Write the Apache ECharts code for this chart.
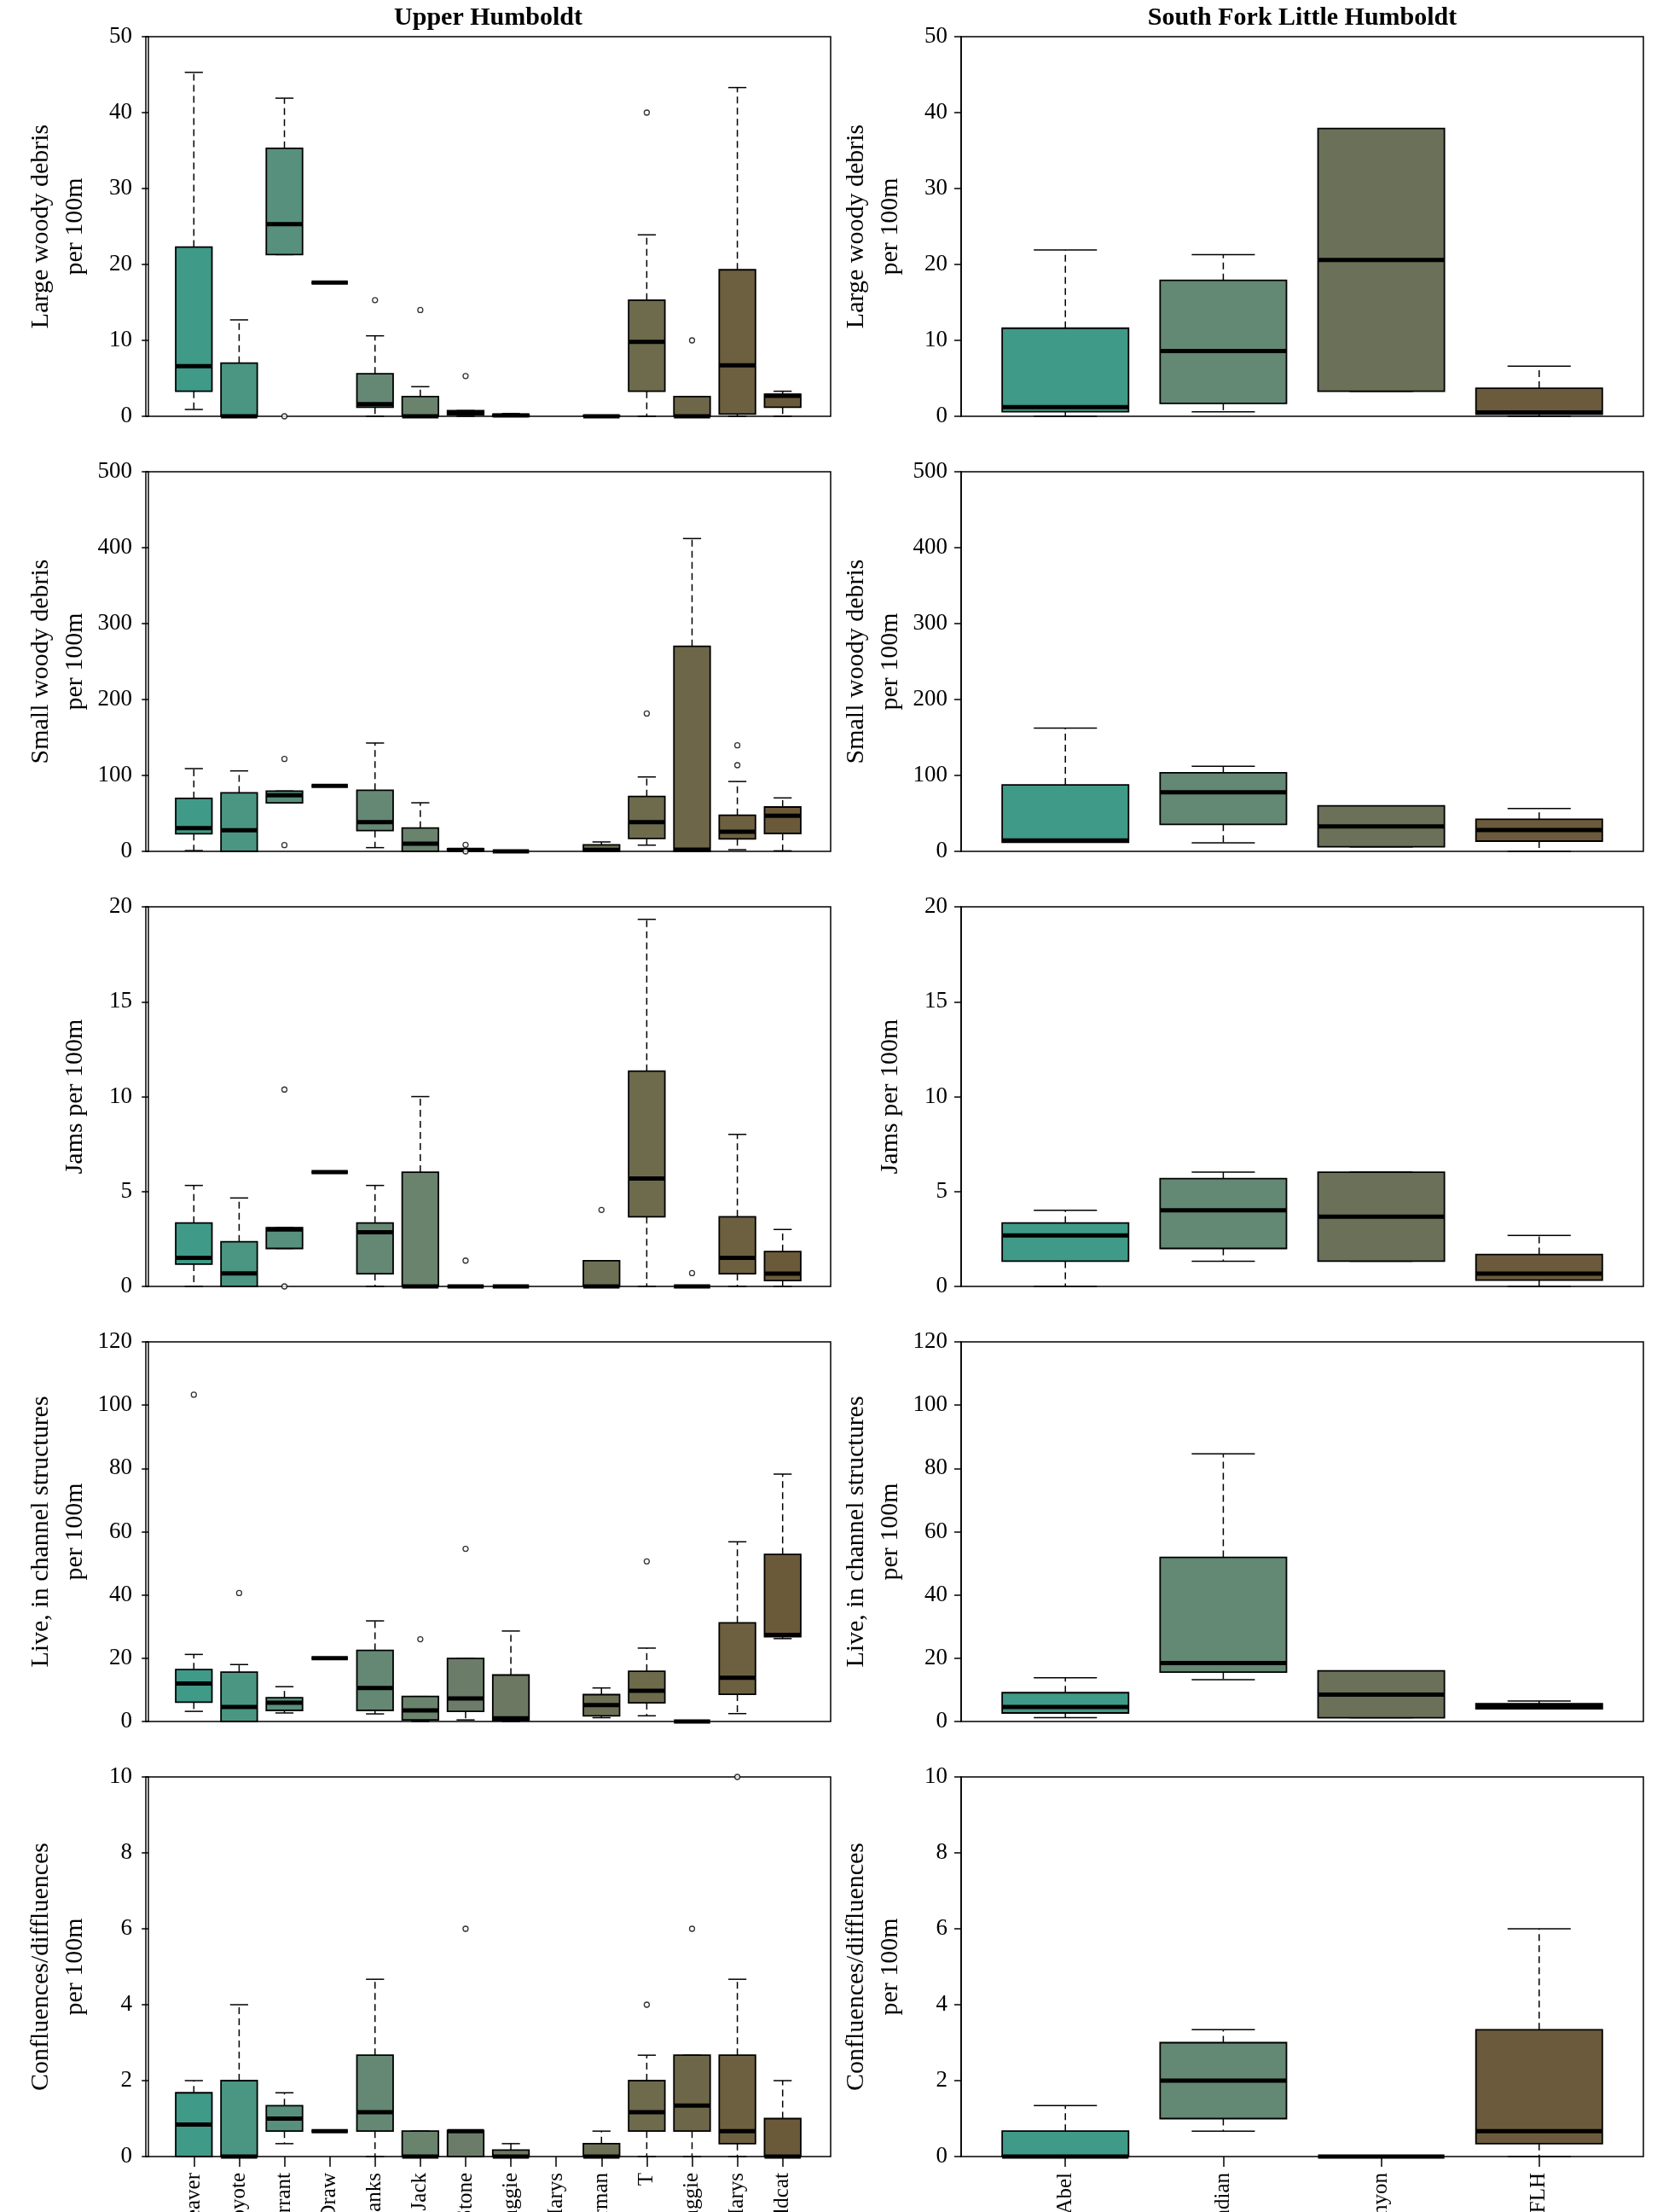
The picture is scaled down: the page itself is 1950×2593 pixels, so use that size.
<!DOCTYPE html>
<html><head><meta charset="utf-8">
<script src="https://cdn.jsdelivr.net/npm/echarts@6/dist/echarts.min.js"></script>
<style>html,body{margin:0;padding:0;background:#fff}#c{width:1950px;height:2593px}</style>
</head><body><div id="c"></div>
<script>
// ---- categories ----
const upperSites = ['Beaver','Coyote','Currant','Draw','Banks','Jack','Stone','Maggie','Marys','Sherman','T','Maggie','Marys','Wildcat'];
const sflhSites = ['Abel','Indian','Canyon','SFLH'];

// ---- box stats: [low whisker, Q1, median, Q3, high whisker]; null = no data ----
const lwdUpper = [[0.9,3.3,6.6,22.3,45.3],[0,0,0,7.0,12.7],[21.3,21.3,25.3,35.3,41.9],[17.6,17.6,17.6,17.6,17.6],[0,1.2,1.6,5.6,10.6],[0,0,0,2.6,3.9],[0,0.2,0.5,0.75,0.75],[0,0,0.1,0.26,0.37],null,[0,0,0,0.1,0.1],[0,3.3,9.8,15.3,23.9],[0,0,0,2.6,2.6],[0,0.3,6.7,19.3,43.3],[0,1.2,2.7,2.9,3.3]];
const lwdUpperOut = [[3,0],[5,15.3],[6,14.0],[7,5.3],[11,40.0],[12,10.0]];
const lwdSflh = [[0,0.6,1.2,11.6,21.9],[0.6,1.7,8.6,17.9,21.3],[3.3,3.3,20.6,37.9,37.9],[0,0.26,0.5,3.7,6.6]];
const lwdSflhOut = [];

const swdUpper = [[1,23.2,30.7,69.7,109],[0,0,27.7,77,106],[64,64,73.8,79.4,79.4],[86.1,86.1,86.1,86.1,86.1],[4.9,27.3,38.6,80.5,142.7],[0,0,10.1,30.7,64],[1,1,1.9,3.4,3.4],[0,0,0,0,0],null,[0,0,1.9,8.6,12.4],[8.2,16.9,38.6,72.3,98],[0,0,2.2,270,412],[2.2,16.5,25.8,47.6,92],[0.7,23.6,46.8,58.4,70.4]];
const swdUpperOut = [[3,121.7],[3,8.2],[7,8.6],[7,0],[11,181.6],[13,139.7],[13,113.5]];
const swdSflh = [[12,12,14.2,87.6,162.5],[11.2,35.6,77.9,103.4,112],[6,6,33,59.9,59.9],[0,13.5,28.1,42.3,56.6]];
const swdSflhOut = [];

const jamUpper = [[0,1.17,1.51,3.34,5.32],[0,0,0.69,2.35,4.66],[2.0,2.0,3.0,3.1,3.1],[6.02,6.02,6.02,6.02,6.02],[0,0.67,2.85,3.34,5.32],[0,0,0,6.02,10.0],[0,0,0,0,0],[0,0,0,0,0],null,[0,0,0,1.35,1.35],[0,3.67,5.68,11.34,19.34],[0,0,0,0,0],[0,0.67,1.51,3.67,8.01],[0,0.31,0.67,1.84,3.0]];
const jamUpperOut = [[3,10.37],[3,0],[7,1.36],[10,4.03],[12,0.7]];
const jamSflh = [[0,1.33,2.68,3.34,4.01],[1.33,2.0,4.01,5.68,6.02],[1.33,1.33,3.67,6.02,6.02],[0,0.33,0.67,1.68,2.68]];
const jamSflhOut = [];

const liveUpper = [[3.2,6.1,12.0,16.4,21.2],[0,0,4.6,15.6,18.0],[2.7,3.5,5.9,7.5,11.0],[20,20,20,20,20],[2.4,3.5,10.6,22.5,31.8],[0,0.5,3.5,7.9,7.9],[0.5,3.2,7.3,19.9,19.9],[0,0.3,1.0,14.7,28.6],null,[1.2,1.8,5.2,8.5,10.6],[1.8,5.9,9.7,15.9,23.2],[0,0,0,0,0],[2.5,8.6,13.8,31.2,56.8],[26.2,26.8,27.4,52.8,78.2]];
const liveUpperOut = [[1,103.3],[2,40.6],[6,26.0],[7,54.6],[11,50.6]];
const liveSflh = [[1.2,2.7,4.6,9.1,13.8],[13.2,15.6,18.5,51.9,84.6],[1.2,1.2,8.5,16.0,16.0],[4.0,4.0,4.7,5.6,6.5]];
const liveSflhOut = [];

const confUpper = [[0,0,0.84,1.68,2.0],[0,0,0,2.0,4.0],[0.34,0.67,1.0,1.34,1.68],[0.67,0.67,0.67,0.67,0.67],[0,0.67,1.17,2.67,4.67],[0,0,0,0.67,0.67],[0,0,0.67,0.69,0.69],[0,0,0,0.17,0.34],null,[0,0,0,0.34,0.67],[0,0.67,1.17,2.0,2.67],[0,0.67,1.34,2.67,2.67],[0,0.34,0.67,2.67,4.67],[0,0,0,1.0,2.0]];
const confUpperOut = [[7,6.0],[11,4.0],[12,6.0],[13,10.0]];
const confSflh = [[0,0,0,0.67,1.34],[0.67,1.0,2.0,3.0,3.34],[0,0,0,0,0],[0,0.34,0.67,3.34,6.0]];
const confSflhOut = [];

// ---- axis settings ----
const yNames = ['Large woody debris\nper 100m','Small woody debris\nper 100m','Jams per 100m','Live, in channel structures\nper 100m','Confluences/diffluences\nper 100m'];
const yMax = [50, 500, 20, 120, 10];
const yStep = [10, 100, 5, 20, 2];
const panelTitles = ['Upper Humboldt','South Fork Little Humboldt'];

// ---- styles ----
const upperColors = ['#3f9a88','#4a9682','#57917e','#5e8d79','#648873','#69836d','#6b7d68','#6d7863','#6e735b','#6e7055','#6e6b4d','#6d6648','#6c6041','#6b5a3a'];
const sflhColors = ['#3f9a88','#638873','#6b7159','#6b5b3c'];
const FONT = '"Liberation Serif","Times New Roman",serif';
const tops = [43, 553, 1063, 1573, 2083];
const PH = 445;
const sidesGeo = [{left:171, width:803}, {left:1127, width:800}];

const panels = [
  [lwdUpper, lwdUpperOut, lwdSflh, lwdSflhOut],
  [swdUpper, swdUpperOut, swdSflh, swdSflhOut],
  [jamUpper, jamUpperOut, jamSflh, jamSflhOut],
  [liveUpper, liveUpperOut, liveSflh, liveSflhOut],
  [confUpper, confUpperOut, confSflh, confSflhOut]
];

function renderBox(params, api) {
  const x = api.value(0);
  const lo = api.coord([x, api.value(1)]);
  const q1 = api.coord([x, api.value(2)]);
  const md = api.coord([x, api.value(3)]);
  const q3 = api.coord([x, api.value(4)]);
  const hi = api.coord([x, api.value(5)]);
  const half = api.size([0.8, 0])[0] / 2;
  const cap = half / 2;
  const cx = lo[0];
  const color = api.visual('color');
  const ls = {stroke:'#000', lineWidth:1.5};
  const ch = [];
  if (hi[1] < q3[1] - 0.5) ch.push({type:'line', shape:{x1:cx,y1:q3[1],x2:cx,y2:hi[1]}, style:Object.assign({lineDash:[8,5]}, ls)});
  if (lo[1] > q1[1] + 0.5) ch.push({type:'line', shape:{x1:cx,y1:q1[1],x2:cx,y2:lo[1]}, style:Object.assign({lineDash:[8,5]}, ls)});
  ch.push({type:'line', shape:{x1:cx-cap,y1:hi[1],x2:cx+cap,y2:hi[1]}, style:Object.assign({}, ls)});
  ch.push({type:'line', shape:{x1:cx-cap,y1:lo[1],x2:cx+cap,y2:lo[1]}, style:Object.assign({}, ls)});
  ch.push({type:'rect', shape:{x:cx-half, y:q3[1], width:half*2, height:q1[1]-q3[1]}, style:{fill:color, stroke:'#000', lineWidth:1.8}});
  ch.push({type:'line', shape:{x1:cx-half,y1:md[1],x2:cx+half,y2:md[1]}, style:{stroke:'#000', lineWidth:5}});
  return {type:'group', children:ch};
}

const option = {backgroundColor:'#fff', animation:false, title:[], grid:[], xAxis:[], yAxis:[], series:[]};
panelTitles.forEach((t, s) => {
  option.title.push({text:t, left: sidesGeo[s].left + sidesGeo[s].width/2, top:6, padding:0, textAlign:'center',
    textStyle:{fontFamily:FONT, fontWeight:'bold', fontSize:30, color:'#000'}});
});

panels.forEach((p, r) => {
  [0, 1].forEach(s => {
    const gi = option.grid.length;
    const sites = s ? sflhSites : upperSites;
    const stats = s ? p[2] : p[0];
    const outs = s ? p[3] : p[1];
    const colors = s ? sflhColors : upperColors;
    const n = sites.length;
    const ext = n * 0.04;
    const last = r === panels.length - 1;
    const idx = sites.map((_, i) => i + 1);
    option.grid.push({left:sidesGeo[s].left, top:tops[r], width:sidesGeo[s].width, height:PH,
      containLabel:false, outerBoundsMode:'none',
      show:true, borderColor:'#000', borderWidth:1.5, backgroundColor:'rgba(0,0,0,0)'});
    option.xAxis.push({gridIndex:gi, type:'value', min:0.5-ext, max:n+0.5+ext,
      axisLine:{show:false}, splitLine:{show:false},
      axisTick:{show:last, customValues:idx, length:12, lineStyle:{color:'#000', width:1.5}},
      axisLabel:{show:last, customValues:idx, rotate:90, margin:19, fontFamily:FONT, fontSize:25, color:'#000',
        formatter: v => sites[Math.round(v)-1] || ''}});
    option.yAxis.push({gridIndex:gi, type:'value', min:0, max:yMax[r], interval:yStep[r],
      axisLine:{show:true, lineStyle:{color:'#000', width:1.5}},
      axisTick:{show:true, length:8, lineStyle:{color:'#000', width:1.5}},
      splitLine:{show:false},
      axisLabel:{margin:16, fontFamily:FONT, fontSize:27, color:'#000'},
      name:yNames[r], nameLocation:'middle', nameGap:63, nameRotate:90,
      nameTextStyle:{fontFamily:FONT, fontSize:30, lineHeight:40, color:'#000'}});
    const data = [];
    stats.forEach((st, i) => { if (st) data.push({value:[i+1].concat(st), itemStyle:{color:colors[i]}}); });
    option.series.push({type:'custom', xAxisIndex:gi, yAxisIndex:gi, renderItem:renderBox, data:data,
      encode:{x:0, y:[1,2,3,4,5]}, clip:false, silent:true});
    option.series.push({type:'scatter', xAxisIndex:gi, yAxisIndex:gi, data:outs, symbol:'circle', symbolSize:6,
      itemStyle:{color:'#fff', borderColor:'#000', borderWidth:1.3}, clip:false, silent:true});
  });
});

const chart = echarts.init(document.getElementById('c'), null, {renderer:'canvas'});
chart.setOption(option);
</script></body></html>
